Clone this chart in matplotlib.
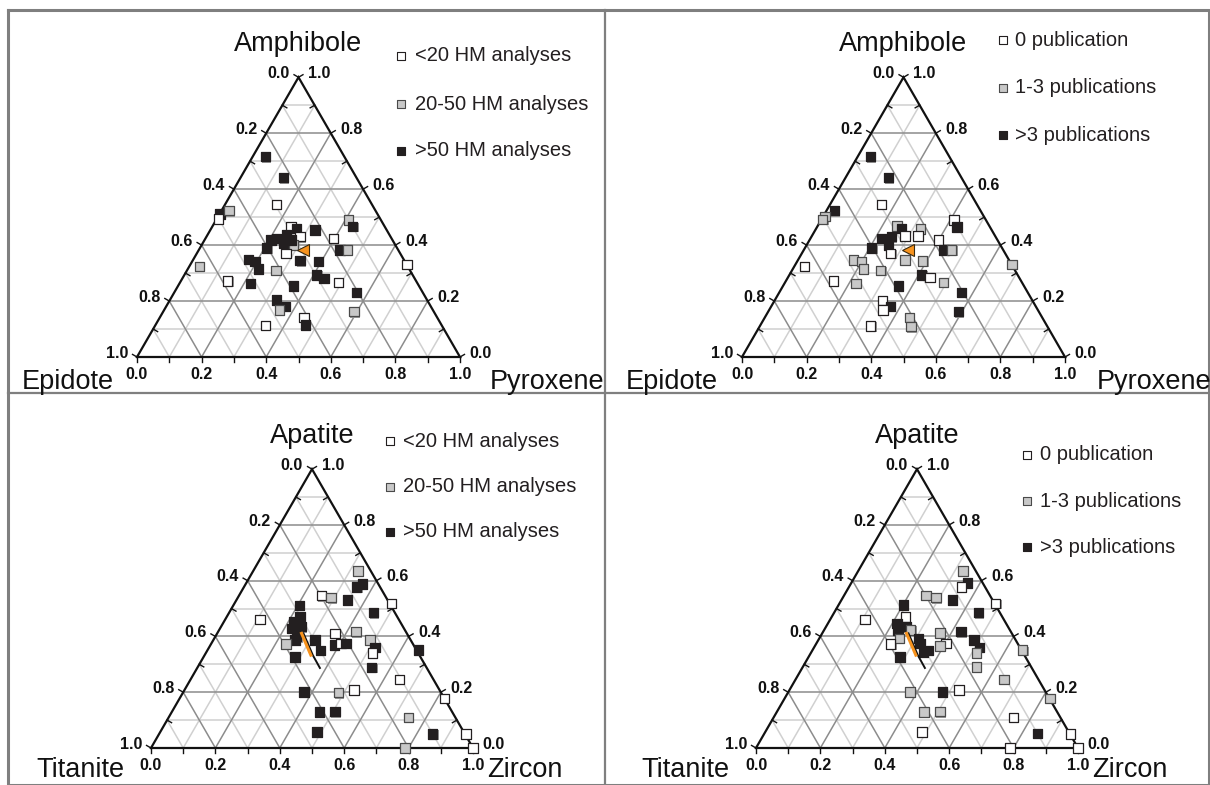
import matplotlib
matplotlib.use('Agg')
import matplotlib.pyplot as plt
import matplotlib.patheffects as pe
import numpy as np

plt.rcParams['font.family'] = ['Liberation Sans', 'DejaVu Sans']

# ---- data: ternary fractions (top component, right component), class 0/1/2 ----
# panel a: Amphibole (top) / Pyroxene (right) / Epidote (left), by HM analyses
a_top = [0.716, 0.641, 0.546, 0.511, 0.523, 0.493, 0.490, 0.466, 0.466, 0.460,
         0.424, 0.436, 0.430, 0.454, 0.424, 0.389, 0.407, 0.400, 0.371, 0.383,
         0.383, 0.344, 0.341, 0.331, 0.323, 0.349, 0.341, 0.314, 0.309, 0.293,
         0.281, 0.272, 0.263, 0.254, 0.266, 0.230, 0.204, 0.180, 0.168, 0.162,
         0.142, 0.114, 0.112, 0.418, 0.418]
a_right = [0.040, 0.133, 0.159, 0.001, 0.023, 0.005, 0.409, 0.435, 0.244, 0.264,
           0.220, 0.245, 0.290, 0.324, 0.396, 0.207, 0.250, 0.284, 0.276, 0.437,
           0.460, 0.333, 0.391, 0.670, 0.032, 0.170, 0.195, 0.219, 0.276, 0.410,
           0.439, 0.145, 0.220, 0.357, 0.490, 0.565, 0.330, 0.368, 0.357, 0.591,
           0.446, 0.465, 0.342, 0.206, 0.268]
a_cls = [2, 2, 0, 2, 1, 0, 1, 2, 0, 2,
         2, 2, 0, 2, 0, 2, 2, 1, 0, 2,
         1, 2, 2, 0, 1, 2, 2, 2, 1, 2,
         2, 0, 2, 2, 0, 2, 2, 2, 1, 1,
         0, 2, 0, 2, 2]

# panel b: same system, by publications
b_top = [0.716, 0.641, 0.546, 0.523, 0.502, 0.492, 0.490, 0.464, 0.469, 0.460,
         0.458, 0.433, 0.433, 0.418, 0.424, 0.430, 0.389, 0.400, 0.371, 0.383,
         0.383, 0.331, 0.323, 0.347, 0.341, 0.314, 0.309, 0.347, 0.343, 0.293,
         0.284, 0.272, 0.263, 0.267, 0.254, 0.230, 0.201, 0.180, 0.168, 0.162,
         0.142, 0.108, 0.111]
b_right = [0.040, 0.133, 0.159, 0.024, 0.006, 0.004, 0.411, 0.433, 0.245, 0.264,
           0.324, 0.288, 0.329, 0.399, 0.220, 0.248, 0.207, 0.253, 0.275, 0.434,
           0.458, 0.670, 0.032, 0.171, 0.200, 0.219, 0.275, 0.331, 0.388, 0.410,
           0.440, 0.147, 0.221, 0.490, 0.357, 0.565, 0.334, 0.370, 0.353, 0.589,
           0.447, 0.469, 0.343]
b_cls = [2, 2, 0, 2, 1, 1, 0, 2, 1, 2,
         1, 0, 0, 0, 2, 2, 2, 2, 0, 2,
         1, 1, 0, 1, 1, 1, 1, 1, 1, 2,
         0, 0, 1, 1, 2, 2, 0, 2, 0, 2,
         1, 1, 0]

# panel c: Apatite (top) / Zircon (right) / Titanite (left), by HM analyses
c_top = [0.635, 0.578, 0.588, 0.546, 0.539, 0.531, 0.518, 0.485, 0.461, 0.511,
         0.452, 0.471, 0.435, 0.429, 0.399, 0.387, 0.373, 0.327, 0.387, 0.349,
         0.369, 0.411, 0.375, 0.375, 0.417, 0.387, 0.361, 0.340, 0.351, 0.289,
         0.246, 0.201, 0.198, 0.208, 0.178, 0.129, 0.130, 0.109, 0.058, 0.050,
         0.050, 0.0, 0.0]
c_right = [0.326, 0.350, 0.362, 0.257, 0.290, 0.344, 0.488, 0.448, 0.108, 0.205,
           0.216, 0.227, 0.250, 0.222, 0.253, 0.254, 0.233, 0.284, 0.316, 0.351,
           0.385, 0.366, 0.403, 0.418, 0.428, 0.487, 0.515, 0.517, 0.655, 0.541,
           0.648, 0.375, 0.483, 0.527, 0.822, 0.458, 0.506, 0.745, 0.487, 0.850,
           0.953, 0.789, 1.0]
c_cls = [1, 2, 2, 0, 1, 2, 0, 2, 0, 2,
         2, 2, 2, 2, 2, 2, 1, 2, 2, 2,
         2, 0, 0, 2, 1, 1, 2, 0, 2, 2,
         0, 2, 1, 0, 0, 2, 2, 1, 2, 2,
         0, 1, 0]

# panel d: same system, by publications
d_top = [0.635, 0.592, 0.577, 0.547, 0.539, 0.531, 0.519, 0.485, 0.461, 0.513,
         0.470, 0.447, 0.435, 0.423, 0.423, 0.393, 0.373, 0.393, 0.375, 0.349,
         0.413, 0.375, 0.366, 0.417, 0.387, 0.361, 0.340, 0.351, 0.290, 0.327,
         0.345, 0.246, 0.201, 0.201, 0.208, 0.178, 0.129, 0.130, 0.109, 0.058,
         0.053, 0.050, 0.0, 0.0]
d_right = [0.326, 0.360, 0.350, 0.254, 0.289, 0.344, 0.485, 0.448, 0.108, 0.202,
           0.229, 0.214, 0.250, 0.230, 0.269, 0.249, 0.232, 0.308, 0.322, 0.361,
           0.365, 0.403, 0.388, 0.428, 0.484, 0.513, 0.515, 0.653, 0.540, 0.284,
           0.347, 0.647, 0.378, 0.479, 0.527, 0.824, 0.457, 0.506, 0.745, 0.486,
           0.847, 0.952, 0.789, 1.0]
d_cls = [1, 2, 0, 1, 1, 2, 0, 2, 0, 2,
         0, 2, 2, 2, 1, 1, 0, 2, 2, 2,
         1, 0, 1, 2, 2, 2, 1, 1, 1, 2,
         2, 1, 1, 2, 0, 1, 1, 1, 0, 0,
         2, 0, 0, 0]

# average composition markers
mean_ab = (0.383, 0.323)
mean_cd = [(0.411, 0.268), (0.333, 0.336), (0.287, 0.381)]

labels_ab = ['Amphibole', 'Epidote', 'Pyroxene']
labels_cd = ['Apatite', 'Titanite', 'Zircon']
legend_hm = ['<20 HM analyses', '20-50 HM analyses', '>50 HM analyses']
legend_pub = ['0 publication', '1-3 publications', '>3 publications']
tick_vals = [0.0, 0.2, 0.4, 0.6, 0.8, 1.0]

fills = ['#ffffff', '#c8c8c8', '#231f20']
edges = ['#231f20', '#4a4a4a', '#231f20']
H3 = np.sqrt(3) / 2
W, HT = 1210, 785


def tern(top, right):
    top = np.asarray(top, float)
    right = np.asarray(right, float)
    return right + top / 2, top * H3


def make_axes(fig, box, corner, s):
    px0, py0, px1, py1 = box
    cx, cy = corner
    ax = fig.add_axes([px0 / W, 1 - py1 / HT, (px1 - px0) / W, (py1 - py0) / HT])
    ax.set_xlim((px0 - cx) / s, (px1 - cx) / s)
    ax.set_ylim((cy - py1) / s, (cy - py0) / s)
    ax.axis('off')
    return ax


def draw_frame(ax, names, label_pos):
    # grid
    for i in range(1, 10):
        t = i / 10
        col = '#8c8c8c' if i % 2 == 0 else '#d0d0d0'
        z = 1 if i % 2 == 0 else 0.5
        ax.plot([t / 2, 1 - t / 2], [t * H3, t * H3], color=col, lw=1.1, zorder=z)
        ax.plot([t, t + (1 - t) / 2], [0, (1 - t) * H3], color=col, lw=1.1, zorder=z)
        ax.plot([1 - t, (1 - t) / 2], [0, (1 - t) * H3], color=col, lw=1.1, zorder=z)
    # outline
    ax.plot([0, 1, 0.5, 0], [0, 0, H3, 0], color='#111111', lw=1.6, zorder=2,
            solid_joinstyle='miter')
    # ticks
    L = 0.016
    for i in range(0, 11):
        t = i / 10
        major = i % 2 == 0
        d = 1 if major else -1
        # left edge, point at height t
        x0, y0 = t / 2, t * H3
        ax.plot([x0, x0 - d * L * H3], [y0, y0 + d * L * 0.5], color='#111111', lw=1.0, zorder=2)
        # right edge
        x0 = 1 - t / 2
        ax.plot([x0, x0 + d * L * H3], [y0, y0 + d * L * 0.5], color='#111111', lw=1.0, zorder=2)
        # bottom
        ax.plot([t, t], [0, -L], color='#111111', lw=1.0, zorder=2)
    # tick labels
    tk = dict(fontsize=11.5, fontweight='bold', color='#111111')
    for v in tick_vals:
        h = 1 - v
        ax.text(h / 2 - 0.028, h * H3 + 0.012, f'{v:.1f}', ha='right', va='center', **tk)
        ax.text(1 - v / 2 + 0.03, v * H3 + 0.012, f'{v:.1f}', ha='left', va='center', **tk)
        ax.text(v, -0.053, f'{v:.1f}', ha='center', va='center', **tk)
    # corner names
    nm = dict(fontsize=19.5, color='#111111')
    ax.text(0.5, H3 + 0.103, names[0], ha='center', va='center', **nm)
    ax.text(label_pos[0], label_pos[2], names[1], ha='left', va='center', **nm)
    ax.text(label_pos[1], label_pos[2], names[2], ha='left', va='center', **nm)


def draw_points(ax, top, right, cls):
    x, y = tern(top, right)
    cls = np.asarray(cls)
    fc = [fills[c] for c in cls]
    ec = [edges[c] for c in cls]
    ax.scatter(x, y, s=46, marker='s', c=fc, edgecolors=ec, linewidths=0.9, zorder=3,
               path_effects=[pe.SimplePatchShadow(offset=(0.8, -0.8), shadow_rgbFace='#9a9a9a', alpha=1),
                             pe.Normal()])


def draw_legend(ax, labels, mx, tx, rows):
    for c, (lab, ry) in enumerate(zip(labels, rows)):
        ax.scatter([mx], [ry], s=30, marker='s', c=fills[c], edgecolors=edges[c],
                   linewidths=0.8, zorder=3)
        ax.text(tx, ry, lab, ha='left', va='center', fontsize=14.5, color='#231f20')


fig = plt.figure(figsize=(12.1, 7.85), dpi=100)

# panel frame
bg = fig.add_axes([0, 0, 1, 1])
bg.set_xlim(0, W)
bg.set_ylim(HT, 0)
bg.axis('off')
fcol = '#7f7f7f'
bg.plot([8, 1209, 1209, 8, 8], [10, 10, 785, 785, 10], color=fcol, lw=2.2)
bg.plot([605, 605], [10, 785], color=fcol, lw=1.6)
bg.plot([8, 1209], [393, 393], color=fcol, lw=1.6)

# panel a
ax = make_axes(fig, (8, 10, 605, 393), (137, 357), 323)
draw_frame(ax, labels_ab, (-0.356, 1.093, -0.077))
draw_points(ax, a_top, a_right, a_cls)
mx, my = tern(*mean_ab)
ax.plot(mx, my, marker='<', ms=9, mfc='#f7931e', mec='#3a2a10', mew=0.8, zorder=4)
draw_legend(ax, legend_hm, 0.817, 0.862, [0.932, 0.783, 0.638])

# panel b
ax = make_axes(fig, (605, 10, 1209, 393), (742, 357), 323)
draw_frame(ax, labels_ab, (-0.359, 1.098, -0.077))
draw_points(ax, b_top, b_right, b_cls)
ax.plot(mx, my, marker='<', ms=9, mfc='#f7931e', mec='#3a2a10', mew=0.8, zorder=4)
draw_legend(ax, legend_pub, 0.808, 0.845, [0.981, 0.833, 0.687])

# panel c
mt = [m[0] for m in mean_cd]
mr = [m[1] for m in mean_cd]
ax = make_axes(fig, (8, 393, 605, 785), (151, 748), 322)
draw_frame(ax, labels_cd, (-0.355, 1.043, -0.068))
draw_points(ax, c_top, c_right, c_cls)
lx, ly = tern(mt, mr)
ax.plot(lx, ly, color='#111111', lw=1.4, zorder=4)
ax.plot(lx[:2] - 0.006, ly[:2], color='#f7931e', lw=2.2, zorder=4)
draw_legend(ax, legend_hm, 0.742, 0.783, [0.953, 0.811, 0.671])

# panel d
ax = make_axes(fig, (605, 393, 1209, 785), (756, 748), 322)
draw_frame(ax, labels_cd, (-0.355, 1.043, -0.068))
draw_points(ax, d_top, d_right, d_cls)
ax.plot(lx, ly, color='#111111', lw=1.4, zorder=4)
ax.plot(lx[:2] - 0.006, ly[:2], color='#f7931e', lw=2.2, zorder=4)
draw_legend(ax, legend_pub, 0.842, 0.882, [0.910, 0.767, 0.624])

fig.savefig('out.png', dpi=100)
